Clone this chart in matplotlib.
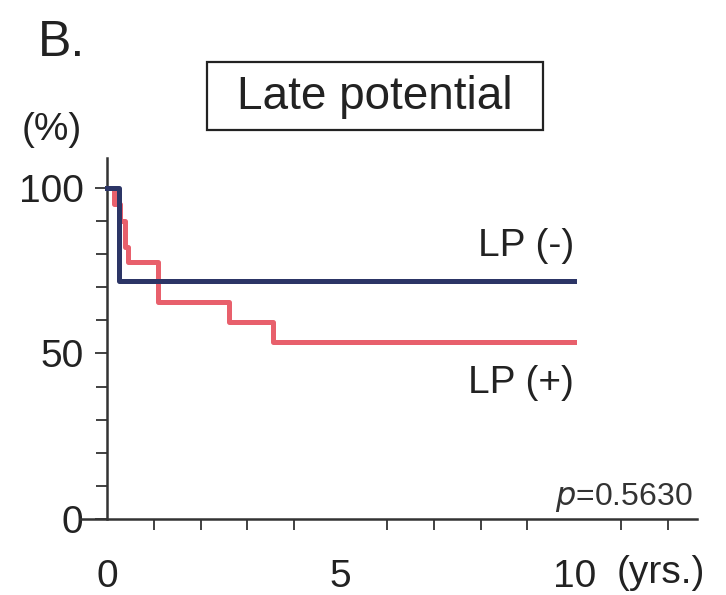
import matplotlib
matplotlib.use("Agg")
import matplotlib.pyplot as plt
from matplotlib.patches import Rectangle
from matplotlib.ticker import MultipleLocator, FixedLocator

plt.rcParams['font.family'] = ['Liberation Sans', 'DejaVu Sans']

# Kaplan-Meier step curves (years, % event-free)
lp_neg_t = [0, 0.25, 10]
lp_neg_s = [100, 72, 72]
lp_pos_t = [0, 0.15, 0.28, 0.38, 0.45, 1.1, 2.6, 3.55, 10]
lp_pos_s = [100, 95, 90, 82, 77.5, 65.5, 59.5, 53.5, 53.5]

x_major = [0, 5, 10]
x_minor = list(range(1, 13))
y_major = [0, 50, 100]

W, H = 726, 595
fig = plt.figure(figsize=(W / 100, H / 100), dpi=100)
ax = fig.add_axes([80 / W, 76 / H, 617 / W, 361 / H])
ax.set_xlim(-0.58, 12.63)
ax.set_ylim(0, 109)

red = '#e8606c'
navy = '#2c3566'
ax.step(lp_pos_t, lp_pos_s, where='post', color=red, lw=3.6, zorder=3)
ax.step(lp_neg_t, lp_neg_s, where='post', color=navy, lw=3.6, zorder=4)

for s in ['top', 'right']:
    ax.spines[s].set_visible(False)
ax.spines['left'].set_position(('data', 0))
ax.spines['left'].set_bounds(0, 109)
for s in ['left', 'bottom']:
    ax.spines[s].set_linewidth(1.8)
    ax.spines[s].set_color('#333333')

ax.xaxis.set_major_locator(FixedLocator(x_major))
ax.xaxis.set_minor_locator(FixedLocator(x_minor))
ax.yaxis.set_major_locator(FixedLocator(y_major))
ax.yaxis.set_minor_locator(MultipleLocator(10))
ax.tick_params(axis='both', which='both', direction='out', color='#333333', width=1.3)
ax.tick_params(axis='x', which='major', length=0, pad=42, labelsize=28, labelcolor='#222222')
ax.tick_params(axis='x', which='minor', length=8)
ax.tick_params(axis='y', which='major', length=9, pad=8, labelsize=28, labelcolor='#222222')
ax.tick_params(axis='y', which='minor', length=8)
ax.set_xticklabels([str(v) for v in x_major])
ax.set_yticklabels([str(v) for v in y_major])
for lbl in ax.get_xticklabels():
    lbl.set_verticalalignment('center')

fig.text(617 / W, 1 - 573 / H, '(yrs.)', fontsize=28, ha='left', va='center', color='#222222')
fig.text(693 / W, 1 - 497 / H, r'$\it{p}$=0.5630', fontsize=23, color='#333333',
         ha='right', va='center')

ax.text(10, 82.5, 'LP (-)', fontsize=28, ha='right', va='center', color='#222222')
ax.text(10, 41, 'LP (+)', fontsize=28, ha='right', va='center', color='#222222')

fig.text(62 / W, 1 - 43 / H, 'B.', fontsize=36, ha='center', va='center', color='#222222')
fig.text(52 / W, 1 - 130 / H, '(%)', fontsize=28, ha='center', va='center', color='#222222')
fig.text(375 / W, 1 - 97 / H, 'Late potential', fontsize=33, ha='center', va='center',
         color='#222222')
fig.add_artist(Rectangle((207 / W, 1 - 130 / H), 336 / W, 68 / H, transform=fig.transFigure,
                         fill=False, ec='#222222', lw=1.6))

fig.savefig('out.png', dpi=100)
